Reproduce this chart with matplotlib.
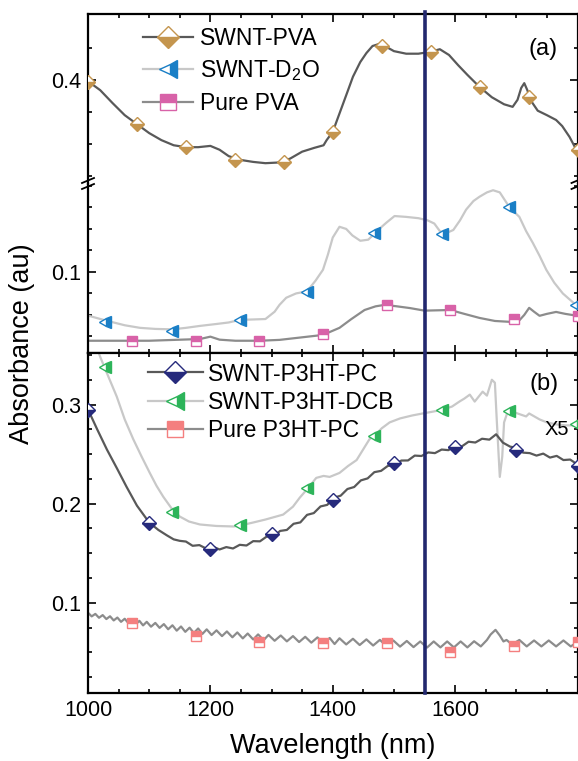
import matplotlib.pyplot as plt
from matplotlib.lines import Line2D
from matplotlib.ticker import MultipleLocator, FixedLocator, FormatStrFormatter
from matplotlib.transforms import blended_transform_factory

plt.rcParams['font.family'] = ['Liberation Sans', 'DejaVu Sans']
plt.rcParams['mathtext.fontset'] = 'custom'
plt.rcParams['mathtext.rm'] = 'Liberation Sans'

# ---- panel (a): SWNT-PVA (upper part of broken axis) ----
pva_x = [1000, 1020, 1040, 1060, 1080, 1100, 1120, 1140, 1160, 1180, 1200, 1215, 1230, 1250,
         1270, 1290, 1310, 1330, 1350, 1370, 1385, 1390, 1400, 1410, 1415, 1425, 1433, 1445,
         1455, 1465, 1475, 1485, 1500, 1520, 1540, 1560, 1575, 1590, 1605, 1620, 1640, 1660,
         1680, 1694, 1702, 1708, 1713, 1718, 1725, 1735, 1750, 1765, 1775, 1787, 1800]
pva_y = [0.398, 0.384, 0.364, 0.345, 0.331, 0.317, 0.306, 0.298, 0.295, 0.295, 0.297, 0.291,
         0.281, 0.275, 0.272, 0.270, 0.271, 0.277, 0.288, 0.294, 0.298, 0.306, 0.319, 0.345,
         0.358, 0.384, 0.405, 0.428, 0.442, 0.453, 0.456, 0.453, 0.445, 0.441, 0.441, 0.444,
         0.448, 0.439, 0.423, 0.408, 0.389, 0.373, 0.362, 0.358, 0.369, 0.3875, 0.395, 0.384,
         0.366, 0.352, 0.345, 0.3375, 0.328, 0.311, 0.2875]
pva_mx = [1000, 1080, 1160, 1240, 1320, 1400, 1480, 1560, 1640, 1720, 1800]
pva_my = [0.397, 0.331, 0.295, 0.275, 0.272, 0.319, 0.453, 0.444, 0.389, 0.373, 0.290]

# ---- panel (a): SWNT-D2O and pure PVA (lower part) ----
d2o_x = [1000, 1028, 1060, 1085, 1110, 1138, 1160, 1183, 1210, 1230, 1248, 1270, 1290, 1305,
         1313, 1324, 1340, 1358, 1372, 1384, 1392, 1400, 1411, 1422, 1432, 1445, 1458, 1469,
         1480, 1488, 1501, 1520, 1540, 1555, 1566, 1575, 1585, 1597, 1608, 1618, 1630, 1640,
         1652, 1662, 1673, 1689, 1705, 1716, 1727, 1738, 1749, 1762, 1776, 1788, 1800]
d2o_y = [0.0797, 0.0775, 0.0752, 0.0740, 0.0735, 0.0733, 0.0740, 0.0749, 0.0758, 0.0765,
         0.0777, 0.0779, 0.0781, 0.0815, 0.0847, 0.0880, 0.0900, 0.0910, 0.0960, 0.1010,
         0.1080, 0.1160, 0.1210, 0.1200, 0.1170, 0.1145, 0.1150, 0.1180, 0.1210, 0.1230,
         0.1260, 0.1256, 0.1250, 0.1240, 0.1225, 0.1190, 0.1180, 0.1195, 0.1240, 0.1290,
         0.1330, 0.1350, 0.1370, 0.1380, 0.1370, 0.1300, 0.1256, 0.1190, 0.1135, 0.1075,
         0.1010, 0.0950, 0.0900, 0.0870, 0.0840]
d2o_mx = [1028, 1138, 1248, 1358, 1468, 1578, 1688, 1798]
d2o_my = [0.0767, 0.0727, 0.0777, 0.0907, 0.1180, 0.1177, 0.1300, 0.0847]

ppva_x = [1000, 1100, 1183, 1200, 1215, 1241, 1280, 1313, 1384, 1411, 1430, 1452, 1470, 1485,
          1505, 1526, 1550, 1592, 1615, 1640, 1665, 1689, 1705, 1713, 1721, 1729, 1738, 1750,
          1765, 1780, 1800]
ppva_y = [0.0680, 0.0680, 0.0688, 0.0699, 0.0685, 0.0680, 0.0680, 0.0684, 0.0707, 0.0740,
          0.0780, 0.0823, 0.0840, 0.0847, 0.0840, 0.0832, 0.0820, 0.0823, 0.0805, 0.0786,
          0.0772, 0.0768, 0.0775, 0.0800, 0.0833, 0.0815, 0.0796, 0.0805, 0.0814, 0.0805,
          0.0796]
ppva_mx = [1072, 1176, 1280, 1384, 1488, 1592, 1696, 1800]
ppva_my = [0.0680, 0.0680, 0.0680, 0.0712, 0.0847, 0.0823, 0.0781, 0.0796]

# ---- panel (b) ----
pc_x = [1000, 1015, 1031, 1047, 1063, 1080, 1100, 1115, 1129, 1140, 1150, 1160, 1171, 1182,
        1193, 1204, 1215, 1226, 1237, 1248, 1259, 1270, 1281, 1292, 1303, 1314, 1325, 1336,
        1347, 1358, 1369, 1380, 1391, 1402, 1413, 1424, 1435, 1446, 1457, 1468, 1479, 1490,
        1501, 1512, 1523, 1534, 1545, 1556, 1567, 1578, 1589, 1600, 1611, 1622, 1633, 1644,
        1656, 1667, 1678, 1690, 1700, 1711, 1722, 1733, 1744, 1755, 1766, 1777, 1788, 1800]
pc_y = [0.295, 0.275, 0.2545, 0.236, 0.217, 0.198, 0.181, 0.1735, 0.168, 0.164, 0.1625,
        0.1618, 0.1575, 0.1582, 0.1548, 0.1567, 0.1538, 0.1562, 0.1548, 0.1585, 0.1578,
        0.1622, 0.1620, 0.1668, 0.1668, 0.1725, 0.1735, 0.1797, 0.1811, 0.1887, 0.1905,
        0.1972, 0.1988, 0.2060, 0.2081, 0.2148, 0.2168, 0.2235, 0.2255, 0.2318, 0.2331,
        0.2381, 0.2388, 0.2435, 0.2436, 0.2485, 0.2481, 0.2517, 0.2510, 0.2546, 0.2540,
        0.2581, 0.2578, 0.2625, 0.2617, 0.2655, 0.2646, 0.2700, 0.2616, 0.2575, 0.2565,
        0.2515, 0.2510, 0.2485, 0.2505, 0.2465, 0.2482, 0.2440, 0.2445, 0.2395]
pc_mx = [1000, 1100, 1200, 1300, 1400, 1500, 1600, 1700, 1800]
pc_my = [0.295, 0.180, 0.1545, 0.169, 0.204, 0.241, 0.2576, 0.2545, 0.2384]

dcb_x = [1000, 1010, 1020, 1028, 1047, 1060, 1074, 1088, 1101, 1112, 1123, 1138, 1150, 1165,
         1183, 1210, 1238, 1249, 1270, 1290, 1319, 1335, 1346, 1360, 1373, 1385, 1395, 1411,
         1425, 1439, 1450, 1460, 1469, 1480, 1493, 1510, 1530, 1547, 1565, 1580, 1595, 1607,
         1615, 1624, 1632, 1645, 1652, 1660, 1665, 1668, 1673, 1677, 1680, 1686, 1689, 1702,
         1716, 1721, 1738, 1750, 1765, 1780, 1800]
dcb_y = [0.385, 0.365, 0.348, 0.336, 0.308, 0.285, 0.265, 0.247, 0.231, 0.218, 0.207, 0.194,
         0.187, 0.182, 0.179, 0.1775, 0.177, 0.178, 0.181, 0.184, 0.189, 0.197, 0.206, 0.216,
         0.226, 0.228, 0.227, 0.231, 0.238, 0.244, 0.255, 0.265, 0.269, 0.276, 0.282, 0.286,
         0.289, 0.291, 0.293, 0.295, 0.298, 0.303, 0.306, 0.310, 0.303, 0.313, 0.309, 0.325,
         0.322, 0.285, 0.227, 0.2475, 0.282, 0.293, 0.294, 0.291, 0.288, 0.291, 0.285, 0.282,
         0.280, 0.279, 0.279]
dcb_mx = [1028, 1138, 1248, 1358, 1468, 1578, 1688, 1798]
dcb_my = [0.338, 0.192, 0.178, 0.216, 0.268, 0.295, 0.293, 0.280]

p3ht_x = [1000, 1006, 1012, 1018, 1024, 1030, 1036, 1042, 1048, 1054, 1060, 1066, 1072, 1078,
          1084, 1090, 1096, 1103, 1110, 1117, 1124, 1131, 1138, 1145, 1152, 1159, 1166, 1173,
          1180, 1187, 1194, 1202, 1210, 1219, 1227, 1236, 1244, 1253, 1261, 1270, 1278, 1287,
          1295, 1305, 1315, 1325, 1335, 1345, 1355, 1365, 1375, 1385, 1395, 1403, 1411, 1422,
          1433, 1444, 1455, 1466, 1477, 1488, 1499, 1510, 1521, 1532, 1543, 1554, 1565, 1576,
          1587, 1598, 1609, 1620, 1631, 1642, 1652, 1658, 1666, 1673, 1679, 1684, 1693, 1705,
          1717, 1729, 1741, 1753, 1765, 1777, 1789, 1800]
p3ht_y = [0.0900, 0.0863, 0.0888, 0.0849, 0.0876, 0.0836, 0.0864, 0.0822, 0.0851, 0.0808,
          0.0839, 0.0795, 0.0829, 0.0783, 0.0818, 0.0772, 0.0808, 0.0759, 0.0797, 0.0747,
          0.0785, 0.0733, 0.0773, 0.0719, 0.0761, 0.0707, 0.0749, 0.0695, 0.0741, 0.0686,
          0.0732, 0.0675, 0.0722, 0.0664, 0.0711, 0.0652, 0.0701, 0.0641, 0.0690, 0.0630,
          0.0681, 0.0623, 0.0676, 0.0617, 0.0670, 0.0611, 0.0664, 0.0604, 0.0657, 0.0598,
          0.0651, 0.0592, 0.0645, 0.0584, 0.0642, 0.0580, 0.0637, 0.0574, 0.0631, 0.0569,
          0.0626, 0.0563, 0.0620, 0.0558, 0.0615, 0.0553, 0.0610, 0.0548, 0.0610, 0.0550,
          0.0610, 0.0550, 0.0610, 0.0550, 0.0612, 0.0560, 0.0625, 0.0680, 0.0727, 0.0670,
          0.0610, 0.0625, 0.0580, 0.0625, 0.0560, 0.0620, 0.0560, 0.0620, 0.0560, 0.0620,
          0.0560, 0.0605]
p3ht_mx = [1072, 1176, 1280, 1384, 1488, 1592, 1696, 1800]
p3ht_my = [0.0800, 0.0667, 0.0606, 0.0596, 0.0596, 0.0505, 0.0566, 0.0600]

x_ticks = [1000, 1200, 1400, 1600]
laser_nm = 1550

W_PX, H_PX = 578, 761


def box(l, t, r, b):
    return [l / W_PX, 1 - b / H_PX, (r - l) / W_PX, (b - t) / H_PX]


def style(ax):
    for s in ax.spines.values():
        s.set_linewidth(1.6)
    ax.set_xlim(1000, 1800)
    ax.xaxis.set_major_locator(FixedLocator(x_ticks))
    ax.xaxis.set_minor_locator(MultipleLocator(50))
    ax.tick_params(which='both', direction='in', top=True, right=True, width=1.2,
                   labelsize=15.5, pad=5)
    ax.tick_params(which='major', length=5.5)
    ax.tick_params(which='minor', length=3)
    ax.yaxis.set_major_formatter(FormatStrFormatter('%.1f'))


def curve(ax, x, y, color):
    ax.plot(x, y, color=color, lw=1.6, zorder=2)


def marks(ax, x, y, marker, fill, color, ms):
    ax.plot(x, y, ls='none', marker=marker, ms=ms, fillstyle=fill,
            markerfacecolor=color, markerfacecoloralt='white',
            markeredgecolor=color, markeredgewidth=1.0, zorder=3, clip_on=True)


def handle(lcolor, marker, fill, color, ms):
    return Line2D([], [], color=lcolor, lw=1.6, marker=marker, ms=ms, fillstyle=fill,
                  markerfacecolor=color, markerfacecoloralt='white',
                  markeredgecolor=color, markeredgewidth=1.0)


fig = plt.figure(figsize=(5.78, 7.61), dpi=100)
ax_top = fig.add_axes(box(88, 14, 577.5, 184))
ax_mid = fig.add_axes(box(88, 184, 577.5, 353))
ax_b = fig.add_axes(box(88, 353, 577.5, 693))

for ax in (ax_top, ax_mid, ax_b):
    style(ax)

# upper broken part
ax_top.spines['bottom'].set_visible(False)
ax_top.tick_params(which='both', bottom=False, labelbottom=False)
ax_top.set_ylim(0.2375, 0.503)
ax_top.yaxis.set_major_locator(FixedLocator([0.4]))
ax_top.yaxis.set_minor_locator(FixedLocator([0.25, 0.30, 0.35, 0.45]))

ax_mid.spines['top'].set_visible(False)
ax_mid.tick_params(which='both', top=False, labelbottom=False)
ax_mid.set_ylim(0.0623, 0.1409)
ax_mid.yaxis.set_major_locator(FixedLocator([0.1]))
ax_mid.yaxis.set_minor_locator(MultipleLocator(0.01))

ax_b.set_ylim(0.009, 0.352)
ax_b.yaxis.set_major_locator(MultipleLocator(0.1))
ax_b.yaxis.set_minor_locator(MultipleLocator(0.025))

c_pva, c_d2o, c_ppva = '#c4954e', '#1a7fc6', '#d862a8'
c_pc, c_dcb, c_p3 = '#262a7c', '#2db45a', '#f47f7f'
dark, light, mid = '#595959', '#c8c8c8', '#8c8c8c'

curve(ax_top, pva_x, pva_y, dark)
marks(ax_top, pva_mx, pva_my, 'D', 'bottom', c_pva, 7.6)

curve(ax_mid, d2o_x, d2o_y, light)
curve(ax_mid, ppva_x, ppva_y, mid)
marks(ax_mid, d2o_mx, d2o_my, '<', 'right', c_d2o, 9)
marks(ax_mid, ppva_mx, ppva_my, 's', 'top', c_ppva, 7.8)

curve(ax_b, dcb_x, dcb_y, light)
curve(ax_b, pc_x, pc_y, dark)
curve(ax_b, p3ht_x, p3ht_y, mid)
marks(ax_b, pc_mx, pc_my, 'D', 'bottom', c_pc, 7.6)
marks(ax_b, dcb_mx, dcb_my, '<', 'right', c_dcb, 9)
marks(ax_b, p3ht_mx, p3ht_my, 's', 'top', c_p3, 7.8)

leg_a = [handle(dark, 'D', 'bottom', c_pva, 7.6),
         handle(light, '<', 'right', c_d2o, 9),
         handle(mid, 's', 'top', c_ppva, 7.8)]
ax_top.legend(leg_a, ['SWNT-PVA', 'SWNT-D$_\\mathregular{2}$O', 'Pure PVA'],
              loc='upper left', bbox_to_anchor=(0.112, 0.925), frameon=False,
              fontsize=16.5, handlelength=2.2, handletextpad=0.3, labelspacing=0.38,
              borderpad=0, borderaxespad=0, markerscale=1.45)

leg_b = [handle(dark, 'D', 'bottom', c_pc, 7.6),
         handle(light, '<', 'right', c_dcb, 9),
         handle(mid, 's', 'top', c_p3, 7.8)]
ax_b.legend(leg_b, ['SWNT-P3HT-PC', 'SWNT-P3HT-DCB', 'Pure P3HT-PC'],
            loc='upper left', bbox_to_anchor=(0.122, 0.972), frameon=False,
            fontsize=16.5, handlelength=2.4, handletextpad=0.22, labelspacing=0.22,
            borderpad=0, borderaxespad=0, markerscale=1.45)

ax_top.text(1743, 0.448, '(a)', fontsize=17, ha='center', va='center')
ax_b.text(1745, 0.321, '(b)', fontsize=17, ha='center', va='center')
ax_b.text(1766, 0.2747, 'X5', fontsize=14.5, ha='center', va='center')

# break marks on both spines
for xp in (88, 577.5):
    for yp in (180.5, 186.5):
        fig.add_artist(Line2D([(xp - 6) / W_PX, (xp + 6) / W_PX],
                              [1 - (yp + 2.5) / H_PX, 1 - (yp - 2.5) / H_PX],
                              color='black', lw=1.3))

# 1550 nm line across both panels
trans = blended_transform_factory(ax_b.transData, fig.transFigure)
fig.add_artist(Line2D([laser_nm, laser_nm], [1 - 693 / H_PX, 1 - 12 / H_PX],
                      transform=trans, color='#22286e', lw=2.6, zorder=5))

fig.text(22 / W_PX, 1 - 344 / H_PX, 'Absorbance (au)', rotation=90, fontsize=19.5,
         ha='center', va='center')
fig.text(333 / W_PX, 1 - 746 / H_PX, 'Wavelength (nm)', fontsize=19.5,
         ha='center', va='center')

fig.savefig('out.png', dpi=100)
